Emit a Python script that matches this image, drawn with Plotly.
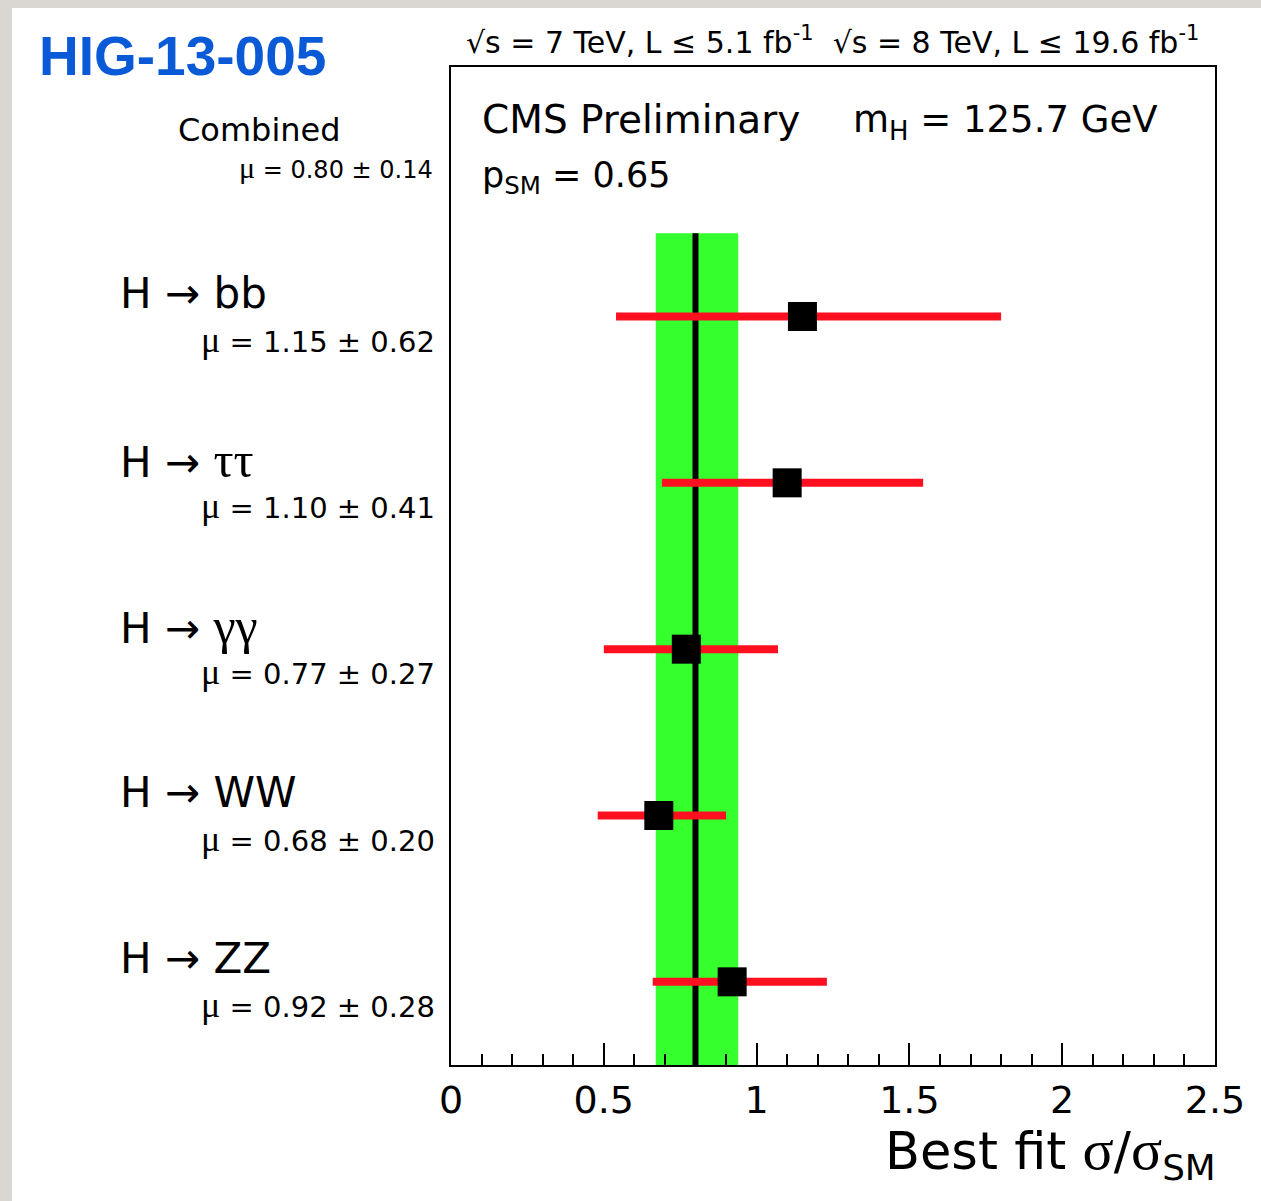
import plotly.graph_objects as go

# ---------------- data ----------------
channels = ["bb", "ττ", "γγ", "WW", "ZZ"]
channel_greek = [False, True, True, False, False]
row_pos = [4.5, 3.5, 2.5, 1.5, 0.5]
mu_best = [1.15, 1.10, 0.77, 0.68, 0.92]
mu_lo = [0.54, 0.69, 0.50, 0.48, 0.66]
mu_hi = [1.80, 1.545, 1.07, 0.90, 1.23]
mu_labels = ["1.15 ± 0.62", "1.10 ± 0.41", "0.77 ± 0.27", "0.68 ± 0.20", "0.92 ± 0.28"]

comb_mu = 0.80
comb_lo = 0.67
comb_hi = 0.94
comb_label = "0.80 ± 0.14"
band_y = [0, 5]
comb_row = 5.5

x_ticks = [0, 0.5, 1, 1.5, 2, 2.5]
x_ticklabels = ["0", "0.5", "1", "1.5", "2", "2.5"]

# ---------------- layout geometry (pixels) ----------------
W, H = 1261, 1201
L, R, T, B = 451, 1215, 67, 1065
PW, PH = R - L, B - T


def px(xpix):
    return (xpix - L) / PW


def py(ypix):
    return (B - ypix) / PH


FONT = "DejaVu Sans"
SERIF = "Liberation Serif"


def greek(s, size):
    return f'<span style="font-family:{SERIF};font-size:{size}px">{s}</span>'


fig = go.Figure()

# green combined band
fig.add_trace(go.Scatter(
    x=[comb_lo, comb_hi, comb_hi, comb_lo, comb_lo],
    y=[band_y[0], band_y[0], band_y[1], band_y[1], band_y[0]],
    fill="toself", fillcolor="#36FF2E", mode="lines", line=dict(width=0),
    hoverinfo="skip", showlegend=False))

# combined best-fit line
fig.add_trace(go.Scatter(
    x=[comb_mu, comb_mu], y=band_y, mode="lines",
    line=dict(color="black", width=6), hoverinfo="skip", showlegend=False))

# channel points with asymmetric errors
fig.add_trace(go.Scatter(
    x=mu_best, y=row_pos, mode="markers",
    marker=dict(symbol="square", size=29, color="black", line=dict(width=0)),
    error_x=dict(type="data", symmetric=False,
                 array=[h - m for h, m in zip(mu_hi, mu_best)],
                 arrayminus=[m - l for m, l in zip(mu_best, mu_lo)],
                 color="#FF1020", thickness=8, width=0),
    showlegend=False))

annotations = []

# left-hand channel labels
for name, is_greek, yv, ml in zip(channels, channel_greek, row_pos, mu_labels):
    nm = greek(name, 50) if is_greek else name
    annotations.append(dict(
        x=px(118), y=yv, xref="paper", yref="y", xanchor="left", yanchor="middle",
        yshift=23, showarrow=False, text=f"H → {nm}",
        font=dict(family=FONT, size=42, color="black")))
    annotations.append(dict(
        x=px(437), y=yv, xref="paper", yref="y", xanchor="right", yanchor="middle",
        yshift=-23, showarrow=False,
        text=f'{greek("μ", 36)} = {ml}',
        font=dict(family=FONT, size=29, color="black")))

# combined label
annotations.append(dict(
    x=px(343), y=comb_row, xref="paper", yref="y", xanchor="right", yanchor="middle",
    yshift=20, showarrow=False, text="Combined",
    font=dict(family=FONT, size=32, color="black")))
annotations.append(dict(
    x=px(435), y=comb_row, xref="paper", yref="y", xanchor="right", yanchor="middle",
    yshift=-17, showarrow=False,
    text=f'{greek("μ", 30)} = {comb_label}',
    font=dict(family=FONT, size=24, color="black")))

# header texts
annotations.append(dict(
    x=px(37), y=py(56), xref="paper", yref="paper", xanchor="left", yanchor="middle",
    showarrow=False, text="<b>HIG-13-005</b>",
    font=dict(family="Liberation Sans", size=55, color="#0A5AD8")))
annotations.append(dict(
    x=px(464), y=py(40), xref="paper", yref="paper", xanchor="left", yanchor="middle",
    showarrow=False,
    text="√s = 7 TeV, L ≤ 5.1 fb<sup>-1</sup>  √s = 8 TeV, L ≤ 19.6 fb<sup>-1</sup>",
    font=dict(family=FONT, size=30, color="black")))
annotations.append(dict(
    x=px(480), y=py(119), xref="paper", yref="paper", xanchor="left", yanchor="middle",
    showarrow=False, text="CMS Preliminary",
    font=dict(family=FONT, size=39, color="black")))
annotations.append(dict(
    x=px(851), y=py(122), xref="paper", yref="paper", xanchor="left", yanchor="middle",
    showarrow=False, text="m<sub>H</sub> = 125.7 GeV",
    font=dict(family=FONT, size=37, color="black")))
annotations.append(dict(
    x=px(480), y=py(178), xref="paper", yref="paper", xanchor="left", yanchor="middle",
    showarrow=False, text="p<sub>SM</sub> = 0.65",
    font=dict(family=FONT, size=35, color="black")))

# x-axis title
annotations.append(dict(
    x=px(1218), y=py(1152), xref="paper", yref="paper", xanchor="right", yanchor="middle",
    showarrow=False,
    text=f'Best fit {greek("σ", 58)}/{greek("σ", 58)}<sub>SM</sub>',
    font=dict(family=FONT, size=51, color="black")))

shapes = [dict(type="rect", xref="paper", yref="paper", layer="below",
               x0=px(12), x1=px(W + 5), y0=py(H + 5), y1=py(8),
               fillcolor="white", line=dict(width=0))]

fig.update_layout(
    width=W, height=H,
    margin=dict(l=L, r=W - R, t=T, b=H - B, pad=0),
    paper_bgcolor="#DAD7D2", plot_bgcolor="white",
    showlegend=False,
    annotations=annotations, shapes=shapes,
    xaxis=dict(range=[0, 2.5], tickvals=x_ticks, ticktext=x_ticklabels,
               ticks="inside", ticklen=22, tickwidth=1.5, tickcolor="black",
               minor=dict(dtick=0.1, ticks="inside", ticklen=11, tickwidth=1.5,
                          tickcolor="black", showgrid=False),
               showgrid=False, zeroline=False, showline=True, linecolor="black",
               linewidth=2, mirror=True,
               tickfont=dict(family=FONT, size=38, color="black")),
    yaxis=dict(range=[0, 6], showticklabels=False, ticks="", showgrid=False,
               zeroline=False, showline=True, linecolor="black", linewidth=2,
               mirror=True),
)

fig.write_html("out.html", config={"displayModeBar": False},
               post_script="document.body.style.margin='0';document.body.style.padding='0';")
